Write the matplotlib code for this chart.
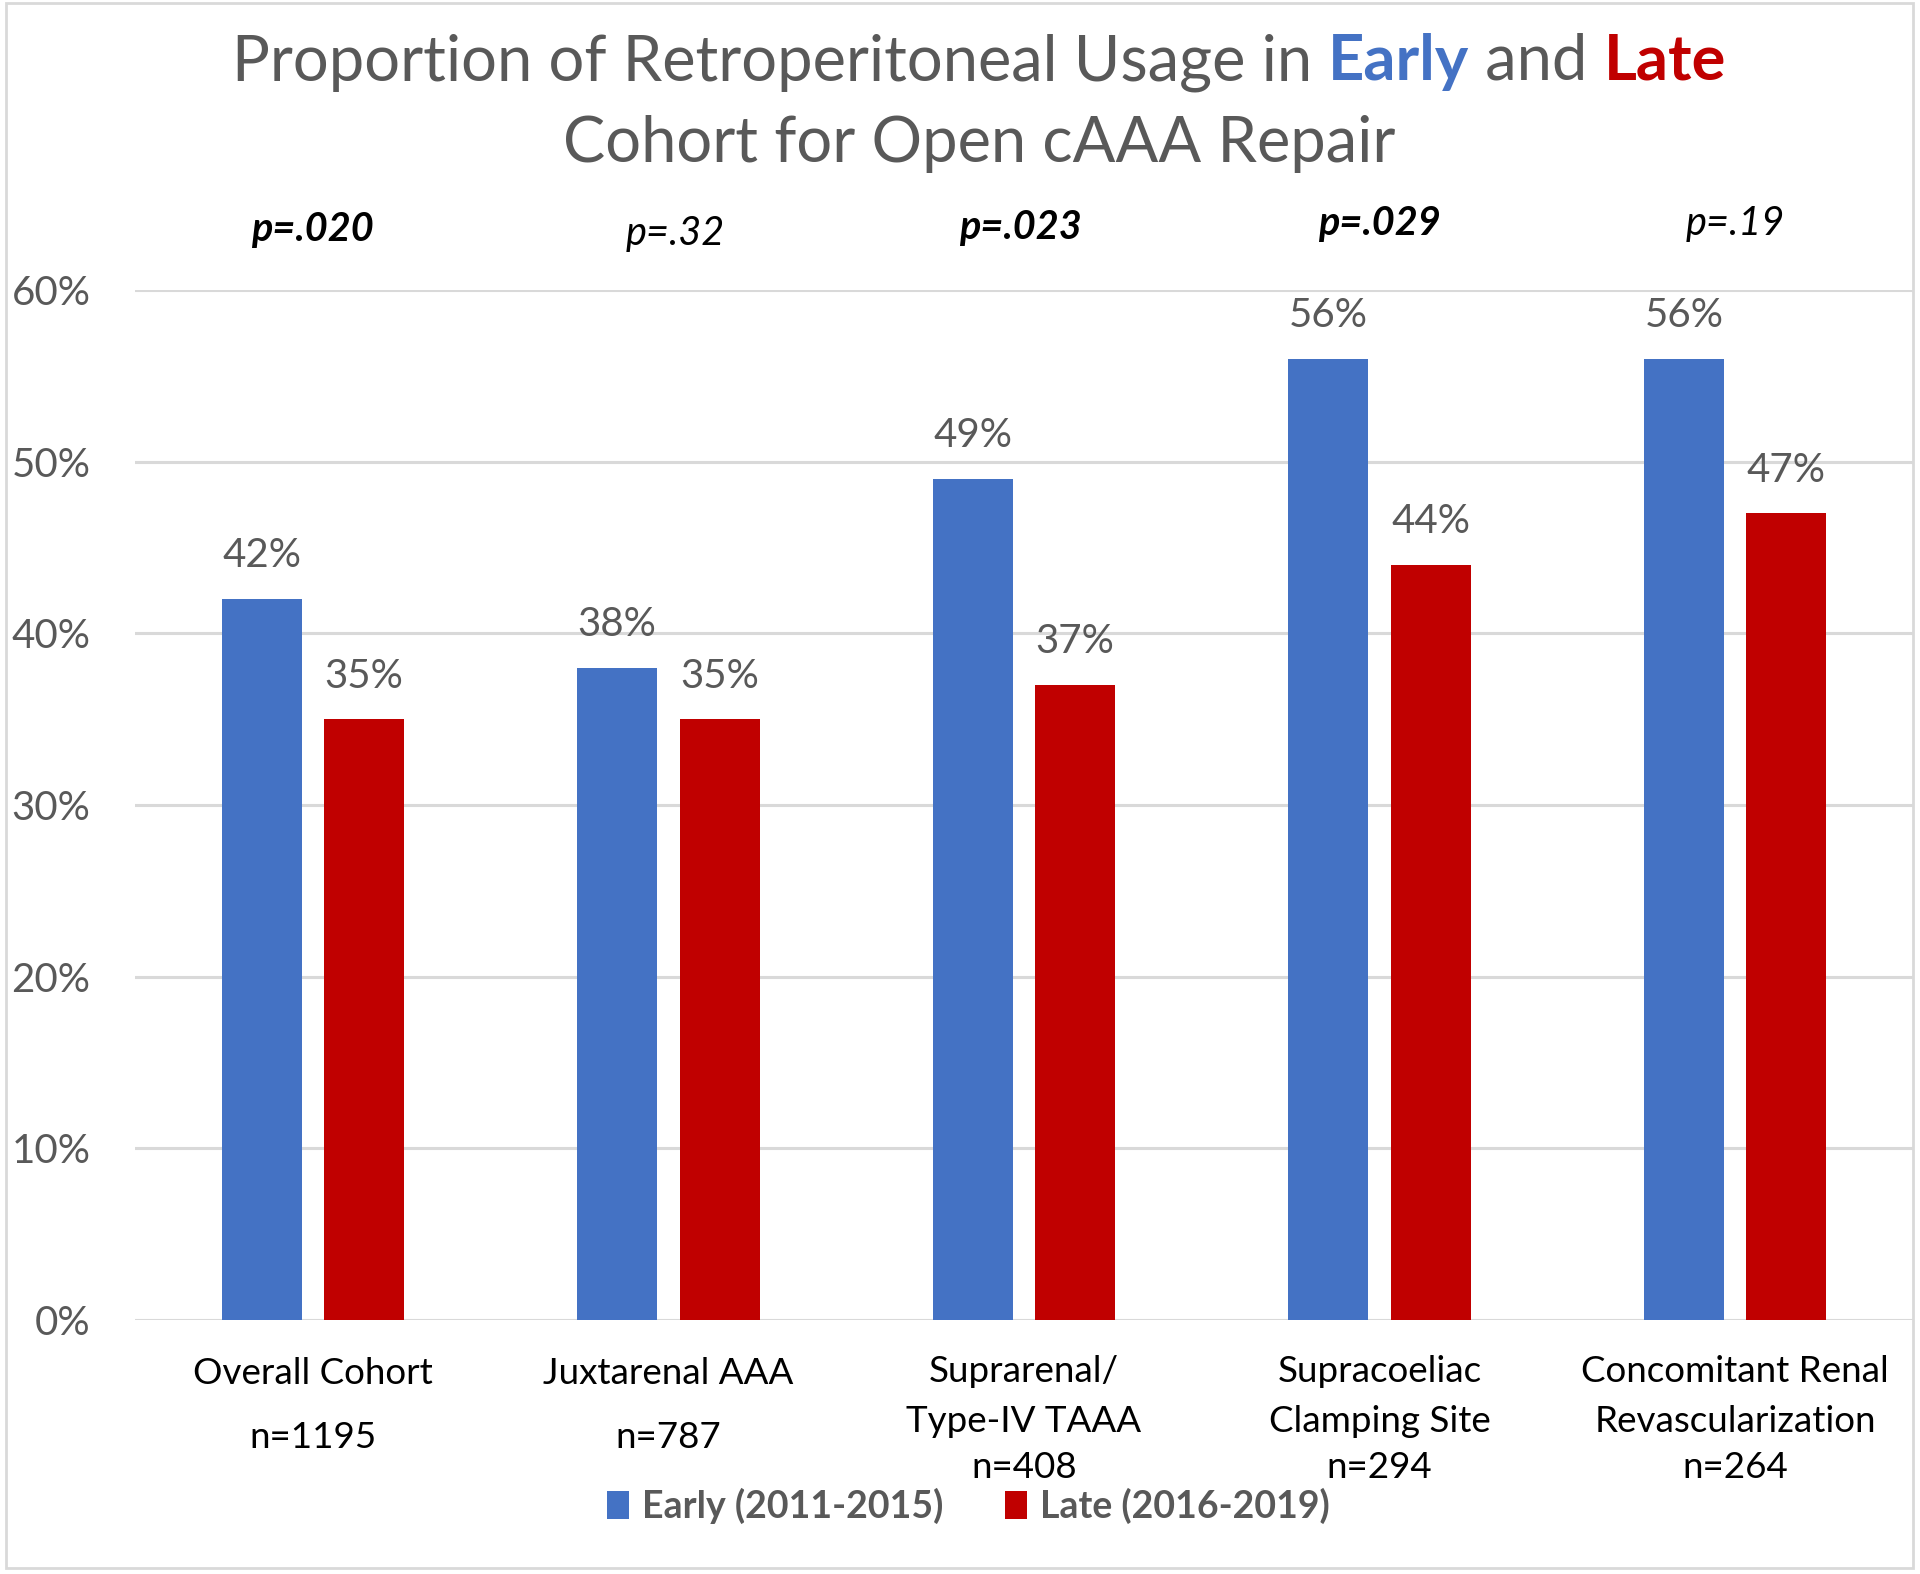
import matplotlib
matplotlib.use("Agg")
import matplotlib.pyplot as plt
from matplotlib.patches import Rectangle
from matplotlib.transforms import blended_transform_factory
from matplotlib.ticker import PercentFormatter
import numpy as np

# ---- data ----
category_lines = [["Overall Cohort"], ["Juxtarenal AAA"], ["Suprarenal/", "Type-IV TAAA"],
                  ["Supracoeliac", "Clamping Site"], ["Concomitant Renal", "Revascularization"]]
n_labels = ["n=1195", "n=787", "n=408", "n=294", "n=264"]
early = [0.42, 0.38, 0.49, 0.56, 0.56]
late = [0.35, 0.35, 0.37, 0.44, 0.47]
p_values = ["p=.020", "p=.32", "p=.023", "p=.029", "p=.19"]
p_significant = [True, False, True, True, False]
series_names = ["Early (2011-2015)", "Late (2016-2019)"]
yticks = [0, 0.1, 0.2, 0.3, 0.4, 0.5, 0.6]

# ---- style ----
FONT = "Lato"
BLUE = "#4472C4"
RED = "#C00000"
GRAY = "#595959"
GRID = "#D9D9D9"
W, H = 1920, 1574

plt.rcParams["font.family"] = [FONT, "DejaVu Sans"]

fig = plt.figure(figsize=(W / 100, H / 100), dpi=100)
fig.patch.set_facecolor("white")

def fx(px):
    return px / W

def fy(py):
    return 1 - py / H

ax_left, ax_right, ax_top, ax_bottom = 135, 1913, 290, 1320
ax = fig.add_axes([fx(ax_left), fy(ax_bottom), fx(ax_right - ax_left), (ax_bottom - ax_top) / H])

x = np.arange(len(early))
bw = 0.225
off = 0.144
b1 = ax.bar(x - off, early, width=bw, color=BLUE, zorder=3, label=series_names[0])
b2 = ax.bar(x + off, late, width=bw, color=RED, zorder=3, label=series_names[1])

ax.set_xlim(-0.5, len(early) - 0.5)
ax.set_ylim(0, 0.6)
ax.set_yticks(yticks)
ax.yaxis.set_major_formatter(PercentFormatter(1.0, decimals=0))
ax.tick_params(axis="y", length=0, pad=32, labelsize=29, labelcolor=GRAY)
ax.tick_params(axis="x", length=0, labelbottom=False)
for s in ax.spines.values():
    s.set_visible(False)
ax.grid(axis="y", color=GRID, linewidth=2.2, zorder=0)
ax.set_axisbelow(True)

# data labels
for bars, vals in ((b1, early), (b2, late)):
    for rect, v in zip(bars, vals):
        ax.annotate(f"{v*100:.0f}%", (rect.get_x() + rect.get_width() / 2, v),
                    xytext=(0, 31), textcoords="offset points", ha="center", va="center",
                    fontsize=29, color=GRAY)

# p-values above plot
pval_ypx = [230, 233, 228, 223, 223]
pval_dx = [0.0, 0.02, -0.01, 0.0, 0.0]
tr = blended_transform_factory(ax.transData, fig.transFigure)
for i, (p, sig) in enumerate(zip(p_values, p_significant)):
    ax.text(x[i] + pval_dx[i], fy(pval_ypx[i]), p, transform=tr, ha="center", va="center",
            fontsize=28.5, style="italic", fontweight="bold" if sig else "normal", color="black")

# category labels
for i, lines in enumerate(category_lines):
    if len(lines) == 1:
        ys = [1373]
        ny = 1437
    else:
        ys = [1371, 1421]
        ny = 1468
    for ln, yy in zip(lines, ys):
        ax.text(x[i], fy(yy), ln, transform=tr, ha="center", va="center", fontsize=26.5, color="black")
    ax.text(x[i], fy(ny), n_labels[i], transform=tr, ha="center", va="center", fontsize=26.5, color="black")

# legend
leg = fig.legend(handles=[b1, b2], labels=series_names, loc="center",
                 bbox_to_anchor=(fx(968), fy(1506)), ncol=2, frameon=False,
                 prop={"family": [FONT, "DejaVu Sans"], "weight": "bold", "size": 27},
                 handlelength=0.6, handleheight=0.78, handletextpad=0.33,
                 columnspacing=1.65, labelcolor=GRAY)

# title with mixed colours
renderer = fig.canvas.get_renderer()
def draw_line(pieces, center_px, baseline_px, size):
    texts = []
    for s, color, weight in pieces:
        t = fig.text(0, fy(baseline_px), s, color=color, fontweight=weight, fontsize=size,
                     ha="left", va="baseline")
        texts.append(t)
    widths = [t.get_window_extent(renderer).width for t in texts]
    total = sum(widths)
    xpos = center_px - total / 2
    for t, w in zip(texts, widths):
        t.set_x(fx(xpos))
        xpos += w

title_size = 45.5
draw_line([("Proportion of Retroperitoneal Usage in ", GRAY, "normal"),
           ("Early", BLUE, "bold"),
           (" and ", GRAY, "normal"),
           ("Late", RED, "bold")], 979, 80, title_size)
draw_line([("Cohort for Open cAAA Repair", GRAY, "normal")], 979, 162, title_size)

# outer border
fig.patches.append(Rectangle((fx(6), fy(1568)), fx(1913 - 6), (1568 - 3) / H,
                             transform=fig.transFigure, fill=False, edgecolor=GRID, linewidth=2))

fig.savefig("out.png", dpi=100)
